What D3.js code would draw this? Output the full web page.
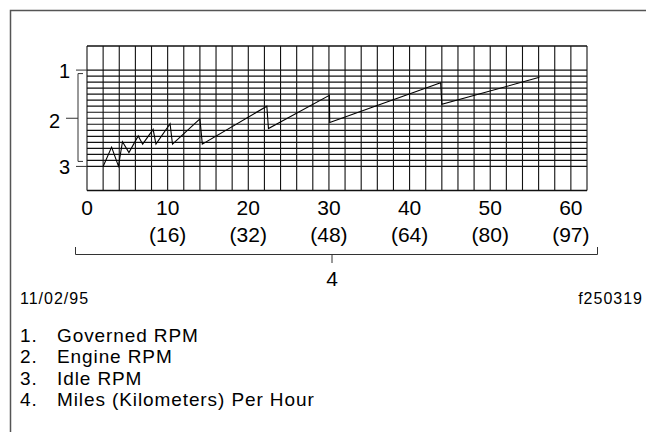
<!DOCTYPE html>
<html>
<head>
<meta charset="utf-8">
<script src="https://cdn.jsdelivr.net/npm/d3@7"></script>
<style>
  body { margin: 0; background: #fff; overflow: hidden; }
  svg { display: block; }
  svg text { font-family: "Liberation Sans", Arial, sans-serif; fill: #000; }
</style>
</head>
<body>
<svg id="svg1" width="646" height="432"></svg>
<script>
// speed ticks along the bottom (mph) and the km/h labels under them
var mphTicks = [0, 10, 20, 30, 40, 50, 60];
var kphLabels = ['', '(16)', '(32)', '(48)', '(64)', '(80)', '(97)'];

// rpm levels, in grid steps above idle
var rpmLabels = ['1', '2', '3'];
var rpmLevels = [16, 8, 0];

// engine rpm trace while shifting up through the gears
var engineMph = [2.0, 3.05, 3.9, 4.4, 5.2, 6.35, 6.9, 8.2, 8.55, 10.3, 10.6, 14.0, 14.3, 22.3, 22.5, 30.05, 30.1, 43.85, 44.0, 56.1];
var engineRpm = [0, 3.2, 0.05, 4.1, 2.3, 5.05, 3.7, 6.15, 3.7, 7.1, 3.7, 7.9, 3.7, 10.0, 6.3, 11.8, 7.3, 13.9, 10.3, 14.8];

var legendItems = ['Governed RPM', 'Engine RPM', 'Idle RPM', 'Miles (Kilometers) Per Hour'];
var dateText = '11/02/95';
var figText = 'f250319';

var svg = d3.select('#svg1');

var scaleX = d3.scaleLinear().domain([0, 62]).range([87, 587]);
var scaleY = d3.scaleLinear().domain([-4, 20]).range([190.5, 46]);

// page frame (top and left edge only)
svg.append('path')
    .attr('d', 'M10.5,432 V10.5 H646')
    .attr('fill', 'none')
    .attr('stroke', '#555')
    .attr('stroke-width', 1.5);

var grid = svg.append('g');

// horizontal lines: one per rpm step, plus the box edges
var hLevels = d3.range(0, 17).concat([-4, 20]);
grid.selectAll('.h-line')
    .data(hLevels)
    .enter()
    .append('line')
    .attr('class', 'h-line')
    .attr('x1', scaleX(0))
    .attr('x2', scaleX(62))
    .attr('y1', function(d){ return scaleY(d); })
    .attr('y2', function(d){ return scaleY(d); })
    .attr('stroke', '#111')
    .attr('stroke-width', function(d){ return (d == 0 || d == 16 || d == -4 || d == 20) ? 1.3 : 1.2; });

// vertical lines every 2 mph
grid.selectAll('.v-line')
    .data(d3.range(0, 63, 2))
    .enter()
    .append('line')
    .attr('class', 'v-line')
    .attr('x1', function(d){ return scaleX(d); })
    .attr('x2', function(d){ return scaleX(d); })
    .attr('y1', scaleY(20))
    .attr('y2', scaleY(-4))
    .attr('stroke', '#111')
    .attr('stroke-width', 1.1);

// engine rpm line
var line = d3.line()
    .x(function(d){ return scaleX(d[0]); })
    .y(function(d){ return scaleY(d[1]); });

svg.append('path')
    .datum(d3.zip(engineMph, engineRpm))
    .attr('d', line)
    .attr('fill', 'none')
    .attr('stroke', '#000')
    .attr('stroke-width', 1.1);

// left side: governed / idle ticks, engine rpm bracket
var left = svg.append('g').attr('stroke', '#333').attr('fill', 'none');
left.append('line')
    .attr('x1', 76).attr('x2', scaleX(0))
    .attr('y1', scaleY(16)).attr('y2', scaleY(16));
left.append('line')
    .attr('x1', 76).attr('x2', scaleX(0))
    .attr('y1', scaleY(0)).attr('y2', scaleY(0));
left.append('path')
    .attr('d', 'M83,' + (scaleY(16) + 3.5) + ' H78 V' + (scaleY(0) - 5) + ' H83');
left.append('line')
    .attr('x1', 66).attr('x2', 78)
    .attr('y1', scaleY(8)).attr('y2', scaleY(8));

svg.selectAll('.rpm-label')
    .data(rpmLabels)
    .enter()
    .append('text')
    .attr('class', 'rpm-label')
    .attr('x', function(d, i){ return i == 1 ? 60 : 70; })
    .attr('y', function(d, i){ return scaleY(rpmLevels[i]) + (i == 1 ? 3 : 1); })
    .attr('dy', '0.35em')
    .attr('text-anchor', 'end')
    .style('font-size', '20px')
    .text(function(d){ return d; });

// speed labels
svg.selectAll('.mph-label')
    .data(mphTicks)
    .enter()
    .append('text')
    .attr('class', 'mph-label')
    .attr('x', function(d){ return scaleX(d); })
    .attr('y', 215)
    .attr('text-anchor', 'middle')
    .style('font-size', '21px')
    .text(function(d){ return d; });

svg.selectAll('.kph-label')
    .data(kphLabels)
    .enter()
    .append('text')
    .attr('class', 'kph-label')
    .attr('x', function(d, i){ return scaleX(mphTicks[i]); })
    .attr('y', 242)
    .attr('text-anchor', 'middle')
    .style('font-size', '21px')
    .text(function(d){ return d; });

// bottom bracket for the speed axis
var bx = 332;
svg.append('path')
    .attr('d', 'M75.5,247 V254.5 H597.5 V247 M' + bx + ',254.5 V263')
    .attr('fill', 'none')
    .attr('stroke', '#333');

svg.append('text')
    .attr('x', bx)
    .attr('y', 286)
    .attr('text-anchor', 'middle')
    .style('font-size', '21px')
    .text('4');

svg.append('text')
    .attr('x', 20)
    .attr('y', 304)
    .style('font-size', '16px')
    .style('letter-spacing', '1px')
    .text(dateText);

svg.append('text')
    .attr('x', 643)
    .attr('y', 304)
    .attr('text-anchor', 'end')
    .style('font-size', '16px')
    .style('letter-spacing', '1px')
    .text(figText);

// legend
var legend = svg.selectAll('.legend')
    .data(legendItems)
    .enter()
    .append('g')
    .attr('class', 'legend')
    .attr('transform', function(d, i){ return 'translate(20,' + (342 + i * 21.3) + ')'; })
    .style('font-size', '19px')
    .style('letter-spacing', '0.9px');

legend.append('text')
    .attr('x', 0)
    .text(function(d, i){ return (i + 1) + '.'; });

legend.append('text')
    .attr('x', 37)
    .text(function(d){ return d; });
</script>
</body>
</html>
